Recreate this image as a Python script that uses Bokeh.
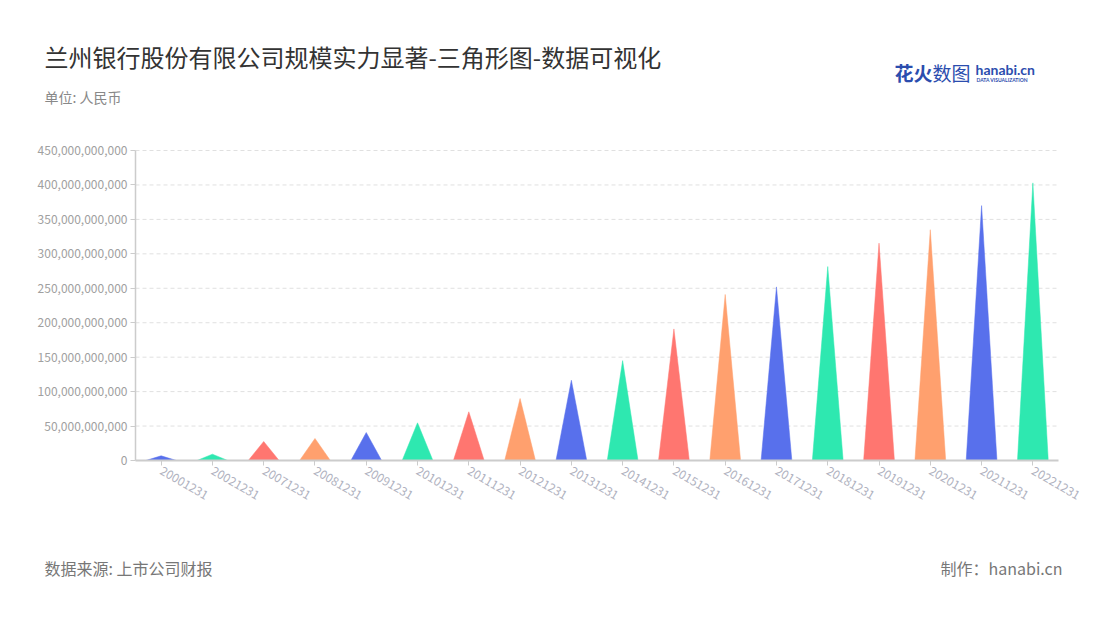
from bokeh.plotting import figure
from bokeh.models import Range1d, FixedTicker, NumeralTickFormatter, ColumnDataSource
from bokeh.core.properties import value
from bokeh.embed import file_html
from bokeh.resources import INLINE
import math

categories = ["20001231", "20021231", "20071231", "20081231", "20091231", "20101231",
              "20111231", "20121231", "20131231", "20141231", "20151231", "20161231",
              "20171231", "20181231", "20191231", "20201231", "20211231", "20221231"]
values = [6.8e9, 9.2e9, 27.6e9, 32.0e9, 40.6e9, 54.7e9, 70.7e9, 90.0e9, 116.5e9,
          145.0e9, 191.0e9, 241.0e9, 252.0e9, 281.5e9, 315.5e9, 335.0e9, 370.0e9, 403.0e9]
palette = ["#5870EC", "#2EE8B0", "#FF7670", "#FFA06E"]
y_ticks = [0, 50e9, 100e9, 150e9, 200e9, 250e9, 300e9, 350e9, 400e9, 450e9]
y_max = 450e9

title = "兰州银行股份有限公司规模实力显著-三角形图-数据可视化"
subtitle = "单位: 人民币"
source_text = "数据来源: 上市公司财报"
maker_text = "制作：hanabi.cn"
logo_cn_a = "花火"
logo_cn_b = "数图"
logo_en = "hanabi.cn"
logo_sub = "DATA VISUALIZATION"

FONT = "Noto Sans CJK SC"
W, H = 1084, 604
# plot area in canvas pixels
FL, FR, FT, FB = 135, 1058, 150, 460
n = len(categories)

# the frame covers the whole canvas; the data ranges are set so that the
# plot area (FL..FR, FT..FB) holds x 0..n and y 0..y_max
kx = n / (FR - FL)
ky = y_max / (FB - FT)
p = figure(width=W, height=H, output_backend="svg", toolbar_location=None,
           x_range=Range1d(-FL * kx, n + (W - FR) * kx),
           y_range=Range1d(-(H - FB) * ky, y_max + FT * ky),
           min_border=0, min_border_left=0, min_border_right=0,
           min_border_top=0, min_border_bottom=0)
p.outline_line_color = None
p.background_fill_color = "white"
p.border_fill_color = "white"
p.grid.visible = False
p.extra_x_ranges = {"px": Range1d(0, W)}
p.extra_y_ranges = {"py": Range1d(H, 0)}

# dashed value grid lines across the plot area
gsrc = ColumnDataSource(dict(y=[t for t in y_ticks if t > 0]))
p.segment(x0=0, x1=n, y0="y", y1="y", source=gsrc, line_color="#E0E0E0",
          line_dash="4 3", line_width=1)

half = 0.3
xs = [[i + 0.5 - half, i + 0.5, i + 0.5 + half] for i in range(n)]
ys = [[0, v, 0] for v in values]
colors = [palette[i % 4] for i in range(n)]
src = ColumnDataSource(dict(xs=xs, ys=ys, color=colors, cat=categories, val=values))
p.patches("xs", "ys", source=src, fill_color="color", line_color="color", line_width=0.5)

ya = p.yaxis[0]
ya.fixed_location = 0
ya.bounds = (0, y_max)
ya.ticker = FixedTicker(ticks=y_ticks)
ya.formatter = NumeralTickFormatter(format="0,0")
ya.axis_line_color = "#CCCCCC"
ya.axis_line_width = 1.5
ya.major_tick_line_color = "#CCCCCC"
ya.major_tick_out = 5
ya.major_tick_in = 0
ya.minor_tick_line_color = None
ya.major_label_text_color = "#A0A0A0"
ya.major_label_text_font = FONT
ya.major_label_text_font_size = "12px"
ya.major_label_standoff = 3

xa = p.xaxis[0]
xa.fixed_location = 0
xa.bounds = (0, n)
xa.ticker = FixedTicker(ticks=[i + 0.5 for i in range(n)])
xa.major_label_overrides = {i + 0.5: c for i, c in enumerate(categories)}
xa.axis_line_color = "#CCCCCC"
xa.axis_line_width = 2
xa.major_tick_line_color = "#CCCCCC"
xa.major_tick_out = 5
xa.major_tick_in = 0
xa.minor_tick_line_color = None
xa.major_label_orientation = -math.pi / 6
xa.major_label_text_color = "#B0B2C0"
xa.major_label_text_font = FONT
xa.major_label_text_font_size = "12px"
xa.major_label_standoff = 4


def put(text, x, y, size, color, align="left", style="normal", font=FONT):
    p.text(x=[x], y=[y], text=[text], x_range_name="px", y_range_name="py",
           text_font=value(font), text_font_size=size, text_color=color,
           text_align=align, text_baseline="middle", text_font_style=style)


put(title, 44, 56, "24px", "#333333")
put(subtitle, 44, 96, "14px", "#888888")
put(source_text, 44, 567, "16px", "#777777")
put(maker_text, 1062, 567, "16px", "#777777", align="right")
put(logo_cn_a, 894, 72, "19px", "#2B4DAE", style="bold")
put(logo_cn_b, 932, 72, "19px", "#2B4DAE")
put(logo_en, 975, 69, "14px", "#2B4DAE", style="bold", font="Lato")
put(logo_sub, 976, 79, "5px", "#2B4DAE", style="bold", font="Lato")

open("out.html", "w").write(file_html(p, INLINE))
